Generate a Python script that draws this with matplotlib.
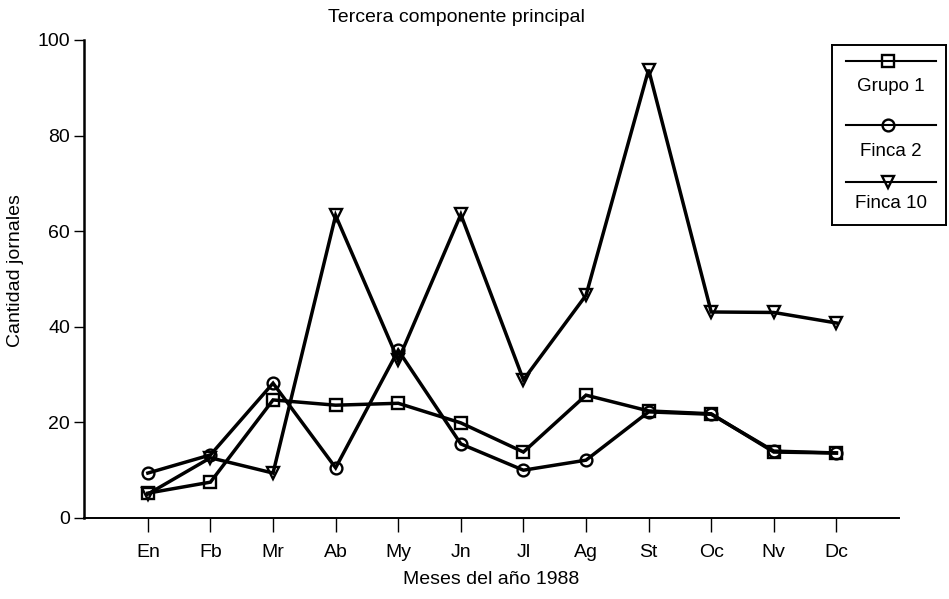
import matplotlib
matplotlib.use("Agg")
import matplotlib.pyplot as plt
from matplotlib.lines import Line2D

plt.rcParams['font.family'] = ['Liberation Sans', 'DejaVu Sans']

months = ["En", "Fb", "Mr", "Ab", "My", "Jn", "Jl", "Ag", "St", "Oc", "Nv", "Dc"]
grupo1 = [5.2, 7.5, 24.7, 23.6, 24.0, 19.9, 13.8, 25.7, 22.4, 21.8, 13.8, 13.6]
finca2 = [9.4, 13.2, 28.2, 10.5, 35.1, 15.5, 10.0, 12.1, 22.2, 21.7, 14.0, 13.6]
finca10 = [5.0, 12.6, 9.4, 63.3, 33.0, 63.5, 28.9, 46.6, 93.8, 43.1, 43.0, 40.8]
yticks = [0, 20, 40, 60, 80, 100]

series = [("Grupo 1", grupo1, "s"), ("Finca 2", finca2, "o"), ("Finca 10", finca10, "v")]

fig = plt.figure(figsize=(9.49, 5.99), dpi=100)
ax = fig.add_axes([84 / 949, 1 - 518 / 599, (899 - 84) / 949, (518 - 40) / 599])

x = list(range(len(months)))
for name, vals, mk in series:
    ax.plot(x, vals, color="black", lw=2.5, marker=mk, markersize=8.5,
            markerfacecolor="none", markeredgecolor="black", markeredgewidth=1.7,
            solid_joinstyle="miter")

ax.set_xlim(-1.02, 12.0)
ax.set_ylim(0, 100)
ax.set_xticks(x)
ax.set_xticklabels(months, fontsize=14)
ax.set_yticks(yticks)
ax.set_yticklabels([str(t) for t in yticks], fontsize=14)
ax.tick_params(axis="x", direction="out", length=10, width=1, pad=9)
ax.tick_params(axis="y", direction="out", length=7, width=1, pad=3)
for s in ("top", "right"):
    ax.spines[s].set_visible(False)
ax.spines["left"].set_linewidth(1.8)
ax.spines["bottom"].set_linewidth(1.4)

ax.set_xlabel("Meses del año 1988", fontsize=14, labelpad=7)
fig.text(16 / 949, 1 - 271 / 599, "Cantidad jornales", rotation=90,
         ha="center", va="center", fontsize=14)
fig.text(456 / 949, 1 - 17 / 599, "Tercera componente principal",
         ha="center", va="center", fontsize=14)

# legend box: line with marker above each label
lax = fig.add_axes([832 / 949, 1 - 225 / 599, (946 - 832) / 949, 180 / 599])
lax.set_xlim(0, 1)
lax.set_ylim(0, 1)
lax.set_xticks([])
lax.set_yticks([])
for sp in lax.spines.values():
    sp.set_linewidth(1.4)
rows = [(0.911, 0.767), (0.556, 0.406), (0.239, 0.117)]
for (name, vals, mk), (ly, ty) in zip(series, rows):
    lax.add_line(Line2D([0.12, 0.91], [ly, ly], color="black", lw=1.5))
    lax.plot([0.49], [ly], marker=mk, markersize=8.5, markerfacecolor="none",
             markeredgecolor="black", markeredgewidth=1.7)
    lax.text(0.52, ty, name, ha="center", va="center", fontsize=13.5)

fig.savefig("out.png", dpi=100)
